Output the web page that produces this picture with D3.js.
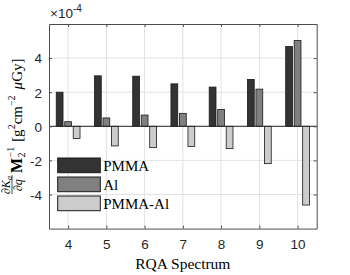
<!DOCTYPE html>
<html>
<head>
<meta charset="utf-8">
<script src="https://cdn.jsdelivr.net/npm/d3@7"></script>
<style>
  body { margin: 0; background: #fff; }
  svg { display: block; }
  .tick text { font-family: "Liberation Sans", Arial, sans-serif; font-size: 13.5px; fill: #262626; }
  .serif { font-family: "Liberation Serif", "Times New Roman", serif; fill: #000; }
</style>
</head>
<body>
<div id="chart"></div>
<script>
// values in units of 1e-4
var spectra = [4, 5, 6, 7, 8, 9, 10];
var pmma   = [2.00, 2.96, 2.94, 2.49, 2.30, 2.75, 4.68];
var al     = [0.27, 0.49, 0.66, 0.76, 0.99, 2.18, 5.03];
var pmmaAl = [-0.72, -1.15, -1.25, -1.19, -1.31, -2.19, -4.62];
var seriesNames = ["PMMA", "Al", "PMMA-Al"];
var seriesColors = ["#333333", "#808080", "#cccccc"];
var yTicks = [-4, -2, 0, 2, 4];

var svgWidth = 350, svgHeight = 275;
var margin = { top: 24, right: 33.3, bottom: 46.4, left: 49 };
var width = svgWidth - margin.left - margin.right;
var height = svgHeight - margin.top - margin.bottom;

var svg = d3.select("#chart").append("svg")
  .attr("width", svgWidth)
  .attr("height", svgHeight);

var chartGroup = svg.append("g")
  .attr("transform", `translate(${margin.left}, ${margin.top})`);

var x = d3.scaleLinear().domain([3.5, 10.5]).range([0, width]);
var y = d3.scaleLinear().domain([-6, 6]).range([height, 0]);

// grid
chartGroup.append("g").selectAll("line.vg")
  .data(spectra).enter().append("line")
  .attr("x1", d => x(d)).attr("x2", d => x(d))
  .attr("y1", 0).attr("y2", height)
  .attr("stroke", "#e3e3e3").attr("stroke-width", 1);
chartGroup.append("g").selectAll("line.hg")
  .data(yTicks).enter().append("line")
  .attr("x1", 0).attr("x2", width)
  .attr("y1", d => y(d)).attr("y2", d => y(d))
  .attr("stroke", "#e3e3e3").attr("stroke-width", 1);

// bars
var series = [pmma, al, pmmaAl];
var step = 0.2222, barW = 0.1778;
series.forEach(function(vals, i) {
  chartGroup.append("g").selectAll("rect")
    .data(vals).enter().append("rect")
    .attr("x", (d, j) => x(spectra[j] + (i - 1) * step - barW / 2))
    .attr("width", x(barW) - x(0))
    .attr("y", d => y(Math.max(d, 0)))
    .attr("height", d => Math.abs(y(d) - y(0)))
    .attr("fill", seriesColors[i])
    .attr("stroke", "#1a1a1a")
    .attr("stroke-width", 0.8);
});

// baseline
chartGroup.append("line")
  .attr("x1", 0).attr("x2", width)
  .attr("y1", y(0)).attr("y2", y(0))
  .attr("stroke", "#262626").attr("stroke-width", 1);

// axes
var axisColor = "#4d4d4d";
var bottomAxis = chartGroup.append("g")
  .attr("transform", `translate(0, ${height})`)
  .call(d3.axisBottom(x).tickValues(spectra).tickSize(-3).tickPadding(11).tickSizeOuter(0)
    .tickFormat(d3.format("d")));
var topAxis = chartGroup.append("g")
  .call(d3.axisTop(x).tickValues(spectra).tickSize(-3).tickFormat("").tickSizeOuter(0));
var leftAxis = chartGroup.append("g")
  .call(d3.axisLeft(y).tickValues(yTicks).tickSize(-3).tickPadding(7).tickSizeOuter(0)
    .tickFormat(d => String(d)));
var rightAxis = chartGroup.append("g")
  .attr("transform", `translate(${width}, 0)`)
  .call(d3.axisRight(y).tickValues(yTicks).tickSize(-3).tickFormat("").tickSizeOuter(0));
[bottomAxis, topAxis, leftAxis, rightAxis].forEach(function(a) {
  a.select(".domain").attr("stroke", axisColor);
  a.selectAll(".tick line").attr("stroke", axisColor);
});
leftAxis.selectAll(".tick text").attr("dy", "0.36em");

// exponent label
var expo = svg.append("text")
  .attr("x", margin.left + 1).attr("y", margin.top - 6)
  .attr("font-family", "Liberation Sans, Arial, sans-serif")
  .attr("font-size", "13.5px").attr("fill", "#262626");
expo.append("tspan").text("\u00d710");
expo.append("tspan").attr("dy", -6).attr("font-size", "10px").text("-4");

// legend
var legend = chartGroup.append("g")
  .attr("transform", "translate(8.7, 134)");
seriesNames.forEach(function(name, i) {
  legend.append("rect")
    .attr("x", 0).attr("y", i * 19)
    .attr("width", 42.6).attr("height", 14.7)
    .attr("fill", seriesColors[i])
    .attr("stroke", "#1a1a1a").attr("stroke-width", 1);
  legend.append("text")
    .attr("class", "serif")
    .attr("x", 45.5).attr("y", i * 19 + 12.5)
    .attr("font-size", "15px")
    .text(name);
});

// x label
svg.append("text")
  .attr("class", "serif")
  .attr("x", margin.left + width / 2).attr("y", 269)
  .attr("text-anchor", "middle")
  .attr("font-size", "15.5px")
  .text("RQA Spectrum");

// y label (rotated, built from pieces)
var ylab = svg.append("g")
  .attr("transform", `translate(22, ${margin.top + height / 2}) rotate(-90)`);
var inner = ylab.append("g");
var cursor = 0;
function piece(txt, opts) {
  var t = inner.append("text").attr("class", "serif")
    .attr("x", cursor + (opts.dx || 0)).attr("y", opts.y || 0)
    .attr("font-size", opts.size + "px")
    .attr("font-style", opts.italic ? "italic" : null)
    .attr("font-weight", opts.bold ? "bold" : null)
    .text(txt);
  return t.node().getComputedTextLength();
}
// fraction dK_a / dq
var fs = 12;
var numStart = cursor;
var w1 = piece("\u2202K", { size: fs, italic: true, y: -12.5 });
cursor += w1;
var w2 = piece("a", { size: 8, italic: true, y: -10.5 });
cursor = numStart;
var numW = w1 + w2;
var denW = piece("\u2202q", { size: fs, italic: true, y: -0.5, dx: 3 });
var fracW = numW + 1;
inner.append("line")
  .attr("x1", numStart).attr("x2", numStart + fracW)
  .attr("y1", -10).attr("y2", -10)
  .attr("stroke", "#000").attr("stroke-width", 0.7);
cursor = numStart + fracW + 2;
cursor += piece("M", { size: 16, bold: true });
var supStart = cursor + 0.5;
cursor = supStart;
var wsup = piece("\u22121", { size: 10, y: -8 });
cursor = supStart;
var wsub = piece("2", { size: 10, y: 3 });
cursor = supStart + Math.max(wsup, wsub) + 5;
cursor += piece("[g", { size: 15 });
cursor += piece("2", { size: 10, y: -7 });
cursor += piece("cm", { size: 15 });
cursor += piece("\u22122", { size: 10, y: -7 });
cursor += 6;
cursor += piece("\u03bc", { size: 15, italic: true });
cursor += piece("Gy]", { size: 15 });
inner.attr("transform", `translate(${-cursor / 2}, 0)`);
</script>
</body>
</html>
